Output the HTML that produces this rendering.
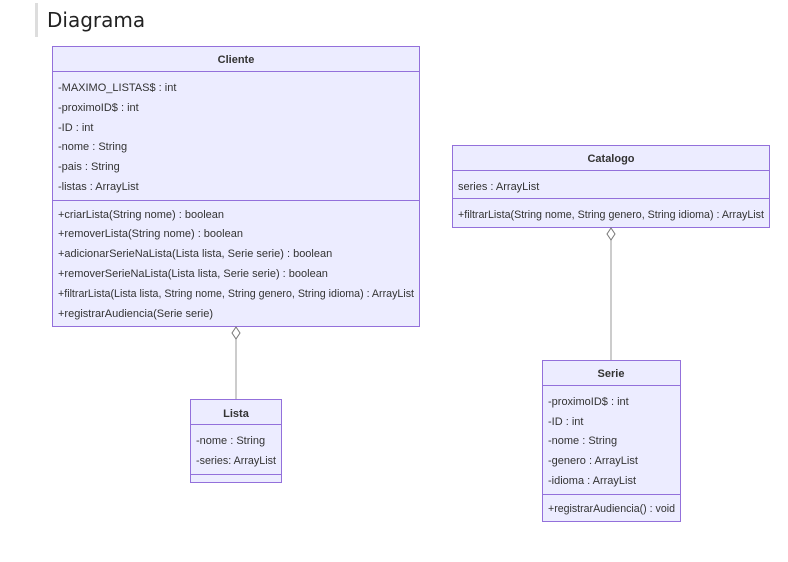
<!DOCTYPE html>
<html><head><meta charset="utf-8"><style>
body{margin:0;background:#fff;width:788px;height:557px;overflow:hidden;}
</style></head><body>
<svg width="788" height="557" xmlns="http://www.w3.org/2000/svg">
<rect x="35" y="3" width="3" height="34" fill="#ddd"/>
<text x="47" y="27" font-family="DejaVu Sans, sans-serif" font-size="20" fill="#222">Diagrama</text>
<g fill="#ECECFF" stroke="#9370DB" stroke-width="1">
<rect x="52.5" y="46.5" width="367" height="280"/>
<rect x="452.5" y="145.5" width="317" height="82"/>
<rect x="542.5" y="360.5" width="138" height="161"/>
<rect x="190.5" y="399.5" width="91" height="83"/>
<path d="M52.5 71.5H419.5M52.5 200.5H419.5M452.5 170.5H769.5M452.5 198.5H769.5M542.5 385.5H680.5M542.5 494.5H680.5M190.5 424.5H281.5M190.5 474.5H281.5" fill="none"/>
</g>
<g stroke="#999" fill="none">
<path d="M236 339V399M611 240V360"/>
</g>
<g fill="#fff" stroke="#777">
<path d="M236 327L240 333L236 339L232 333Z"/>
<path d="M611 228L615 234L611 240L607 234Z"/>
</g>
<g font-family="Liberation Sans, Arial, sans-serif" font-size="11" fill="#333">
<text font-weight="bold" text-anchor="middle" x="236" y="63">Cliente</text>
<text x="58" y="91">-MAXIMO_LISTAS$ : int</text>
<text x="58" y="111">-proximoID$ : int</text>
<text x="58" y="131">-ID : int</text>
<text x="58" y="150">-nome : String</text>
<text x="58" y="170">-pais : String</text>
<text x="58" y="190">-listas : ArrayList</text>
<text x="58" y="218">+criarLista(String nome) : boolean</text>
<text x="58" y="237">+removerLista(String nome) : boolean</text>
<text x="58" y="257">+adicionarSerieNaLista(Lista lista, Serie serie) : boolean</text>
<text x="58" y="277">+removerSerieNaLista(Lista lista, Serie serie) : boolean</text>
<text x="58" y="297" textLength="356" lengthAdjust="spacingAndGlyphs">+filtrarLista(Lista lista, String nome, String genero, String idioma) : ArrayList</text>
<text x="58" y="317">+registrarAudiencia(Serie serie)</text>
<text font-weight="bold" text-anchor="middle" x="611" y="162">Catalogo</text>
<text x="458" y="190">series : ArrayList</text>
<text x="458" y="218" textLength="306" lengthAdjust="spacingAndGlyphs">+filtrarLista(String nome, String genero, String idioma) : ArrayList</text>
<text font-weight="bold" text-anchor="middle" x="611" y="377">Serie</text>
<text x="548" y="405">-proximoID$ : int</text>
<text x="548" y="425">-ID : int</text>
<text x="548" y="444">-nome : String</text>
<text x="548" y="464">-genero : ArrayList</text>
<text x="548" y="484">-idioma : ArrayList</text>
<text x="548" y="512" textLength="127" lengthAdjust="spacingAndGlyphs">+registrarAudiencia() : void</text>
<text font-weight="bold" text-anchor="middle" x="236" y="417">Lista</text>
<text x="196" y="444">-nome : String</text>
<text x="196" y="464" textLength="80" lengthAdjust="spacingAndGlyphs">-series: ArrayList</text>
</g>
</svg>
</body></html>
